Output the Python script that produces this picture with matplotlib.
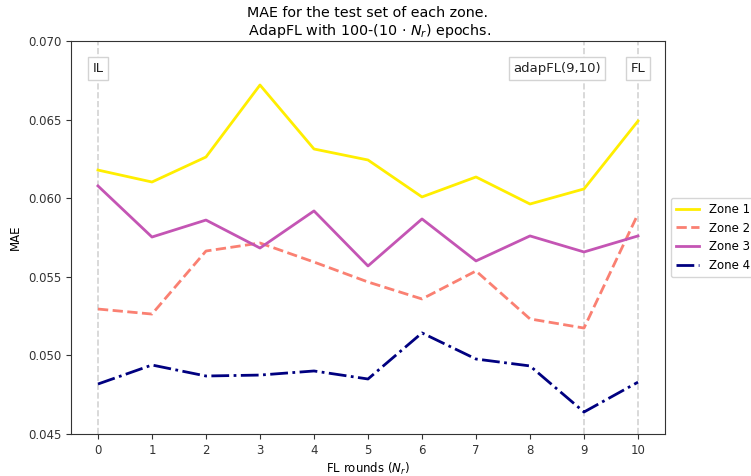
import matplotlib
matplotlib.use("Agg")
import matplotlib.pyplot as plt

rounds = list(range(11))
zone1 = [0.06179, 0.06103, 0.06262, 0.06720, 0.06313, 0.06243, 0.06008, 0.06135, 0.05963, 0.06059, 0.06491]
zone2 = [0.05295, 0.05263, 0.05664, 0.05715, 0.05594, 0.05467, 0.05359, 0.05537, 0.05232, 0.05174, 0.05900]
zone3 = [0.06078, 0.05753, 0.05861, 0.05683, 0.05919, 0.05569, 0.05868, 0.05601, 0.05760, 0.05658, 0.05760]
zone4 = [0.04818, 0.04939, 0.04869, 0.04875, 0.04901, 0.04850, 0.05143, 0.04977, 0.04933, 0.04640, 0.04830]

marks = [0, 9, 10]
mark_labels = ["IL", "adapFL(9,10)", "FL"]
label_pos = [0, 8.5, 10]

fig = plt.figure(figsize=(7.51, 4.76), dpi=100)
ax = fig.add_axes([0.0945, 0.0882, 0.791, 0.8257])

for x in marks:
    ax.axvline(x, color="lightgray", linestyle="--", linewidth=1.2, zorder=1)
for x, lab in zip(label_pos, mark_labels):
    ax.text(x, 0.06825, lab, ha="center", va="center", fontsize=9.5, color="#222222",
            bbox=dict(facecolor="white", edgecolor="lightgray", boxstyle="square,pad=0.35"))

ax.plot(rounds, zone1, color="#ffee00", linewidth=2, label="Zone 1")
ax.plot(rounds, zone2, color="salmon", linewidth=2, linestyle="--", label="Zone 2")
ax.plot(rounds, zone3, color="#c455b4", linewidth=2, label="Zone 3")
ax.plot(rounds, zone4, color="navy", linewidth=2, linestyle="-.", label="Zone 4")

ax.set_xlim(-0.5, 10.5)
ax.set_ylim(0.045, 0.070)
ax.set_xticks(rounds)
ax.tick_params(labelsize=8.5, colors="#333333")
for s in ax.spines.values():
    s.set_color("#333333")
ax.set_xlabel("FL rounds ($N_r$)", fontsize=8.5, labelpad=3)
ax.set_ylabel("MAE", fontsize=8.5)
ax.set_title("MAE for the test set of each zone.\n AdapFL with 100-(10 $\\cdot$ $N_r$) epochs.",
             fontsize=10.3, pad=4)
ax.legend(loc="center left", bbox_to_anchor=(1.0, 0.5), fontsize=8.5)

fig.savefig("out.png", dpi=100)
